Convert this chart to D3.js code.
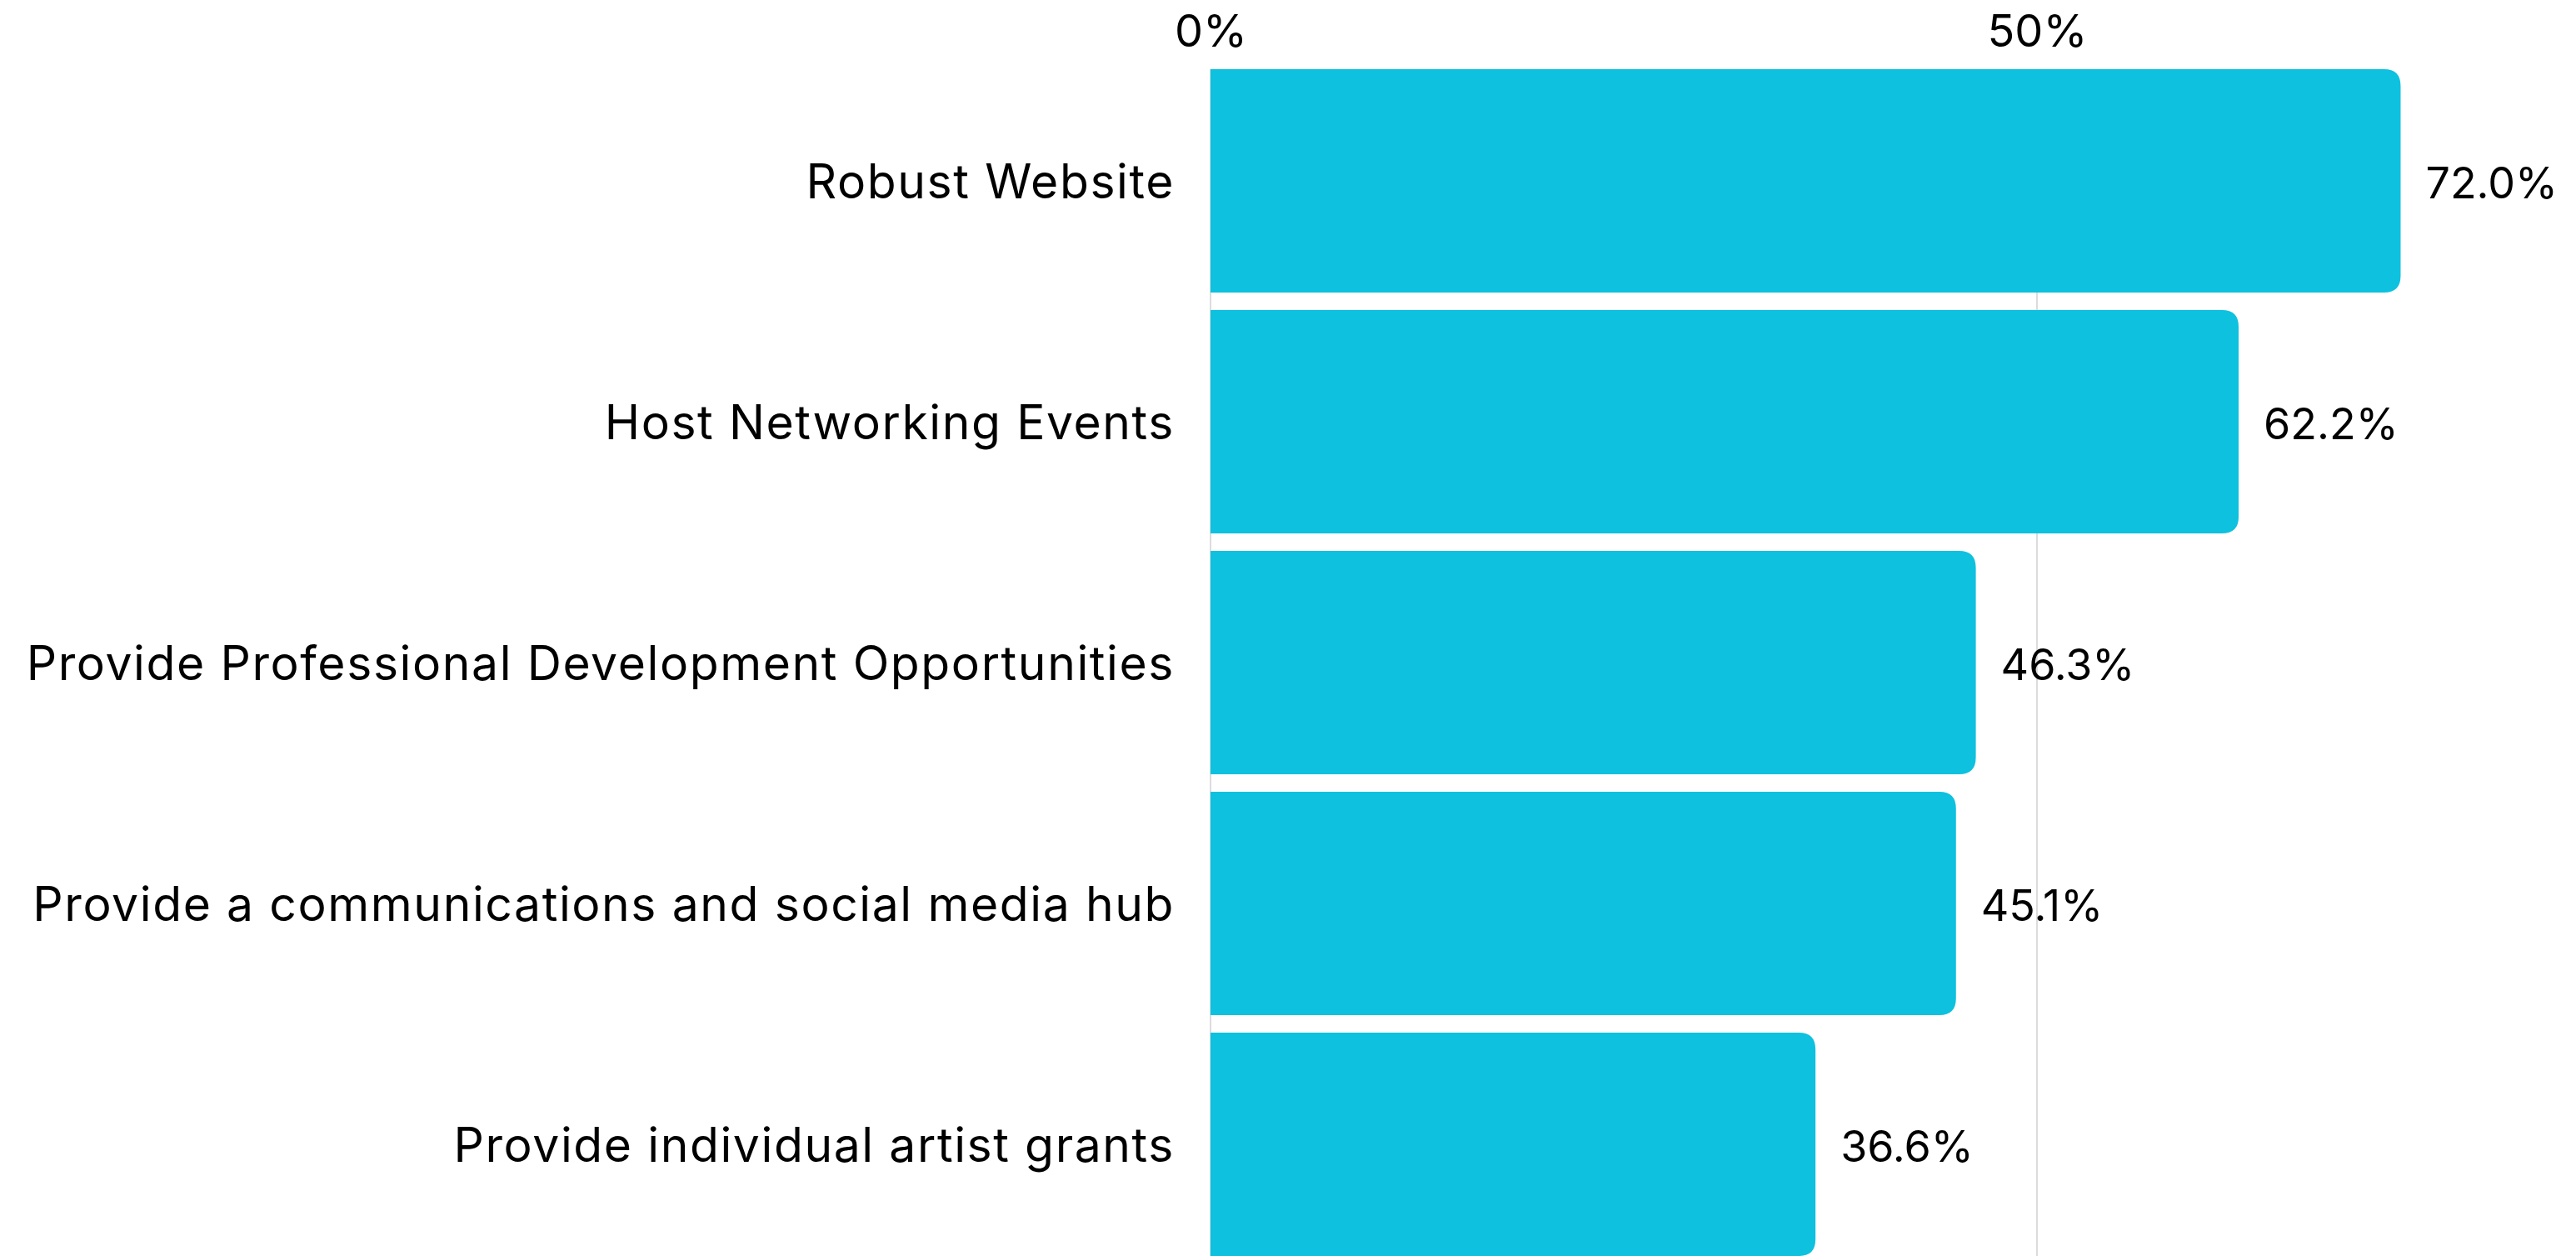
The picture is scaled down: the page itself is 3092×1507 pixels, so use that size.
<!doctype html>
<html>
  <head>
    <style>
      body { margin: 0; background: #fff; }
      text { font-family: Inter, "Open Sans", sans-serif; fill: #000; }
    </style>
  </head>
  <body>
    <svg width="3092" height="1507" id="content"></svg>

    <script src="https://cdnjs.cloudflare.com/ajax/libs/d3/7.8.5/d3.min.js"></script>
    <script>
      const categories = [
        'Robust Website',
        'Host Networking Events',
        'Provide Professional Development Opportunities',
        'Provide a communications and social media hub',
        'Provide individual artist grants'
      ]
      const values = [72.0, 62.2, 46.3, 45.1, 36.6]
      const tickValues = [0, 50]

      const svg = d3.select('#content')

      const x = d3.scaleLinear().domain([0, 100]).range([1453, 3437])
      const y = d3.scaleBand()
        .domain(categories)
        .range([72.5, 1517.5])
        .paddingInner(0.0727)
        .paddingOuter(0.0363)

      // bar with only the right corners rounded
      function barPath (x0, x1, y0, h, r) {
        r = Math.min(r, (x1 - x0), h / 2)
        return `M${x0},${y0}H${x1 - r}Q${x1},${y0} ${x1},${y0 + r}` +
          `V${y0 + h - r}Q${x1},${y0 + h} ${x1 - r},${y0 + h}H${x0}Z`
      }

      const gridTop = y(categories[0])

      // gridlines
      svg.append('g')
        .selectAll('line')
        .data(tickValues)
        .join('line')
        .attr('x1', d => x(d))
        .attr('x2', d => x(d))
        .attr('y1', gridTop)
        .attr('y2', 1507)
        .style('stroke', '#d0d0d0')
        .style('stroke-width', 1.5)

      // top axis labels
      const axis = svg.append('g')
        .attr('transform', 'translate(0, 56)')
        .call(d3.axisTop(x).tickValues(tickValues).tickSize(0).tickPadding(0).tickFormat(d => d + '%'))
      axis.select('.domain').remove()
      axis.selectAll('text')
        .attr('y', 0)
        .attr('dy', 0)
        .style('font-size', '54px')
        .style('font-family', 'Inter, sans-serif')
        .style('fill', '#000')

      svg.append('g')
        .selectAll('path')
        .data(values)
        .join('path')
        .attr('d', (d, i) => barPath(x(0), x(d), y(categories[i]), y.bandwidth(), 20))
        .style('fill', '#0dc1df')

      // category labels
      svg.append('g')
        .selectAll('text')
        .data(categories)
        .join('text')
        .attr('x', x(0) - 43)
        .attr('y', d => y(d) + y.bandwidth() / 2 + 21)
        .attr('text-anchor', 'end')
        .style('font-size', '57px')
        .style('letter-spacing', '1.6px')
        .text(d => d)

      // value labels
      svg.append('g')
        .selectAll('text')
        .data(values)
        .join('text')
        .attr('x', d => x(d) + 30)
        .attr('y', (d, i) => y(categories[i]) + y.bandwidth() / 2 + 21)
        .style('font-size', '52px')
        .text(d => d.toFixed(1) + '%')
    </script>
  </body>
</html>
